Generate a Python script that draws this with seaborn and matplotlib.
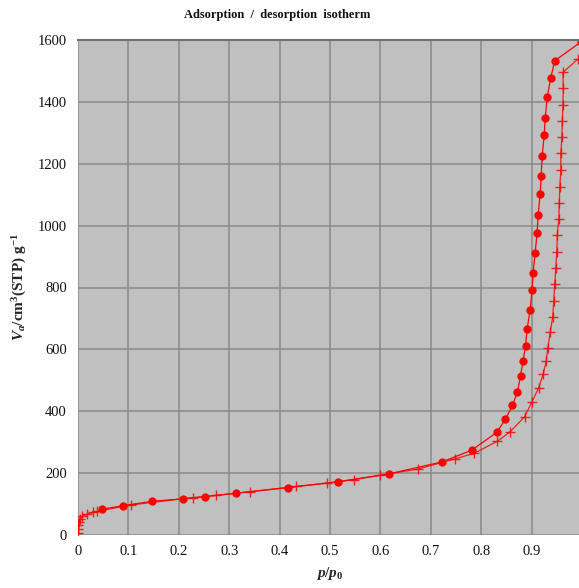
import matplotlib
matplotlib.use("Agg")
import matplotlib.pyplot as plt
import seaborn as sns
import pandas as pd

# Adsorption branch (plus markers)
ads_p = [0.0, 0.0003, 0.0007, 0.0015, 0.003, 0.0085, 0.017, 0.029, 0.037,
         0.105, 0.228, 0.274, 0.341, 0.433, 0.495, 0.548, 0.599, 0.674,
         0.748, 0.786, 0.832, 0.857, 0.886, 0.901, 0.914, 0.923, 0.929,
         0.932, 0.937, 0.942, 0.944, 0.946, 0.948, 0.950, 0.951, 0.954,
         0.955, 0.956, 0.958, 0.958, 0.960, 0.961, 0.962, 0.963, 0.962, 0.993]
ads_v = [5, 18, 31, 43, 52, 60, 67, 73, 76,
         97, 121, 128, 140, 157, 168, 179, 193, 213,
         246, 264, 303, 333, 382, 431, 476, 520, 561,
         603, 655, 706, 757, 812, 862, 916, 969, 1022,
         1073, 1126, 1180, 1234, 1285, 1339, 1390, 1444, 1495, 1540]

# Desorption branch (filled circles)
des_p = [0.998, 0.946, 0.938, 0.931, 0.927, 0.925, 0.921, 0.919, 0.917, 0.913,
         0.911, 0.907, 0.903, 0.901, 0.897, 0.891, 0.888, 0.883, 0.878, 0.872,
         0.862, 0.848, 0.831, 0.781, 0.722, 0.618, 0.515, 0.416, 0.313, 0.252,
         0.208, 0.147, 0.090, 0.047]
des_v = [1594, 1533, 1478, 1415, 1348, 1293, 1226, 1160, 1102, 1035,
         977, 912, 847, 791, 727, 665, 612, 562, 515, 462,
         419, 374, 332, 274, 236, 198, 172, 153, 135, 124,
         117, 109, 95, 83]

x_ticks = [0, 0.1, 0.2, 0.3, 0.4, 0.5, 0.6, 0.7, 0.8, 0.9]
x_labels = ["0", "0.1", "0.2", "0.3", "0.4", "0.5", "0.6", "0.7", "0.8", "0.9"]
y_ticks = [0, 200, 400, 600, 800, 1000, 1200, 1400, 1600]

sns.set_style("white")
plt.rcParams["font.family"] = ["Liberation Serif", "DejaVu Serif"]
plt.rcParams["mathtext.fontset"] = "custom"
plt.rcParams["mathtext.rm"] = "Liberation Serif:bold"
plt.rcParams["mathtext.it"] = "Liberation Serif:italic:bold"
plt.rcParams["mathtext.bf"] = "Liberation Serif:bold"

fig = plt.figure(figsize=(5.79, 5.88), dpi=100)
ax = fig.add_axes([78 / 579, 1 - 535 / 588, (582 - 78) / 579, (535 - 40) / 588])
ax.set_facecolor("#c0c0c0")

ads = pd.DataFrame({"p": ads_p, "v": ads_v})
des = pd.DataFrame({"p": des_p, "v": des_v})

sns.lineplot(data=ads, x="p", y="v", sort=False, estimator=None, ax=ax,
             color="#ff0000", linewidth=0.9, marker="+", markersize=7,
             markeredgewidth=1.0, markeredgecolor="#ff0000", alpha=0.85)
sns.lineplot(data=des, x="p", y="v", sort=False, estimator=None, ax=ax,
             color="#ff0000", linewidth=0.9, marker="o", markersize=6,
             markeredgewidth=0, markerfacecolor="#ff0000")

ax.set_xlim(0, 1.0)
ax.set_ylim(0, 1600)
ax.set_xticks(x_ticks)
ax.set_xticklabels(x_labels)
ax.set_yticks(y_ticks)
ax.grid(True, color="#8a8a8a", linewidth=1.1)
ax.set_axisbelow(True)
for s in ["left", "bottom", "right"]:
    ax.spines[s].set_visible(False)
ax.spines["top"].set_color("#707070")
ax.spines["top"].set_linewidth(1.5)
ax.tick_params(axis="both", which="both", length=5, width=1, color="#8a8a8a",
               labelsize=10.5, labelcolor="#111111", pad=3)
ax.tick_params(axis="x", pad=2)

ax.set_xlabel(r"$p/p_0$", fontsize=11, fontweight="bold", labelpad=5)
ax.set_ylabel(r"$V_a$/cm$^3$(STP) g$^{-1}$", fontsize=11, fontweight="bold", labelpad=6)

fig.text(277 / 579, 1 - 15 / 588, "Adsorption  /  desorption  isotherm",
         ha="center", va="center", fontsize=9, fontweight="bold", color="#111111")

fig.savefig("out.png", dpi=100)
